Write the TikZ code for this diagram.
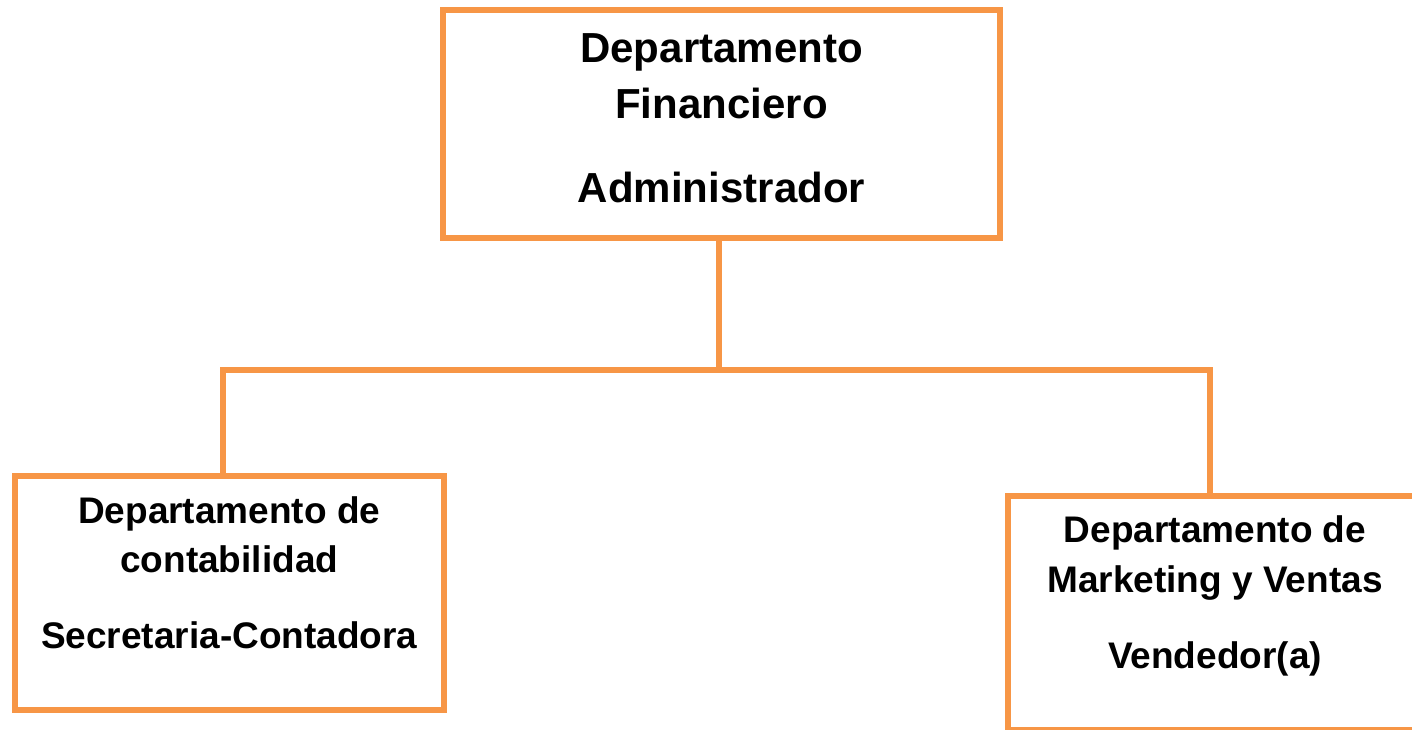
\documentclass[tikz,border=0pt]{standalone}
\usepackage{fontspec}
\setmainfont{Liberation Sans}
\definecolor{orgline}{HTML}{F79646}
\begin{document}
\begin{tikzpicture}[x=1pt,y=-1pt,
  box/.style={draw=orgline,line width=6pt,rectangle,inner sep=0pt,fill=white},
  bigtxt/.style={anchor=base,inner sep=0pt,font=\fontsize{42}{50}\selectfont\bfseries},
  smalltxt/.style={anchor=base,inner sep=0pt,font=\fontsize{37}{44}\selectfont\bfseries},
  conn/.style={draw=orgline,line width=6pt}]
\useasboundingbox[fill=white] (0,0) rectangle (1412,729);
% boxes
\node[box,minimum width=557pt,minimum height=228pt] (top) at (721.5,124) {};
\node[box,minimum width=429.5pt,minimum height=234pt] (left) at (229.25,593) {};
\node[box,minimum width=414pt,minimum height=234pt] (right) at (1215,613) {};
% bus coordinates
\coordinate (busL) at (223,370);
\coordinate (busR) at (1210,370);
\coordinate (busM) at (719,370);
% connectors
\draw[conn] (busM |- top.south) -- (busM);
\draw[conn,line cap=rect] (busL) -- (busR);
\draw[conn] (busL) -- (busL |- left.north);
\draw[conn] (busR) -- (busR |- right.north);
% texts
\node[bigtxt] (t1) at (721.5,62) {Departamento};
\node[bigtxt] (t2) at (721.5,118) {Financiero};
\node[bigtxt] (t3) at (721.5,202) {Administrador};
\node[smalltxt] (l1) at (229.25,523) {Departamento de};
\node[smalltxt] (l2) at (229.25,572) {contabilidad};
\node[smalltxt] (l3) at (229.25,648) {Secretaria-Contadora};
\node[smalltxt] (r1) at (1215,542) {Departamento de};
\node[smalltxt] (r2) at (1215,592) {Marketing y Ventas};
\node[smalltxt] (r3) at (1215,668) {Vendedor(a)};
\end{tikzpicture}
\end{document}
